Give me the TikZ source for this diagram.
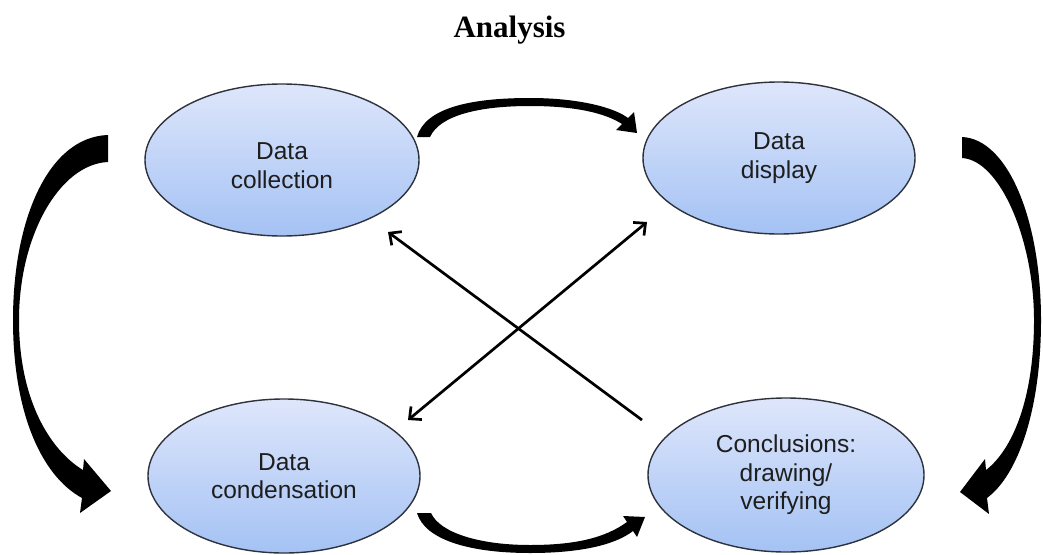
\documentclass[tikz,border=0pt]{standalone}
\usepackage{fontspec}
\setmainfont{Liberation Serif}
\setsansfont{Liberation Sans}
\usetikzlibrary{arrows.meta,shapes.geometric}
\definecolor{elltop}{RGB}{222,230,251}
\definecolor{ellbot}{RGB}{164,194,244}
\definecolor{elledge}{RGB}{45,50,60}
\definecolor{txt}{RGB}{30,30,30}
\tikzset{
  stage/.style={ellipse, draw=elledge, line width=1.4pt, top color=elltop, bottom color=ellbot,
    inner sep=0pt, align=center, text=txt, font=\sffamily\fontsize{24.5}{28.5}\selectfont},
  band/.style={fill=black, draw=none},
  link/.style={line width=2.7pt, -{Straight Barb[length=9pt,width=17pt]}},
  duallink/.style={line width=2.7pt, {Straight Barb[length=9pt,width=17pt]}-{Straight Barb[length=9pt,width=17pt]}}
}
\begin{document}
\begin{tikzpicture}[x=1pt,y=-1pt]
\useasboundingbox (0,0) rectangle (1043,554);
\node[font=\bfseries\fontsize{31}{36}\selectfont, anchor=base] (title) at (509.5,37) {Analysis};

\node[stage, minimum width=274pt, minimum height=152pt] (coll) at (282,160) {\rule{0pt}{4pt}\\[-4pt]Data\\collection};
\node[stage, minimum width=272pt, minimum height=152pt] (disp) at (779,158) {Data\\display};
\node[stage, minimum width=272pt, minimum height=154pt] (cond) at (284,476) {Data\\condensation};
\node[stage, minimum width=276pt, minimum height=154pt] (conc) at (786,475) {Conclusions:\\drawing/\\verifying};

% straight connectors
\coordinate (l1a) at (642,420);
\coordinate (l1b) at (388,232);
\coordinate (l2a) at (408,420);
\coordinate (l2b) at (647,222);
\draw[link] (l1a) -- (l1b);
\draw[duallink] (l2a) -- (l2b);

% left big curved arrow (collection -> condensation)
\fill[band] (108,135) .. controls (48,137) and (13,220) .. (13,320)
  .. controls (13,410) and (40,475) .. (82,498)
  -- (80,513) -- (111,491) -- (84,459) -- (83,470)
  .. controls (50,450) and (19,400) .. (19,320)
  .. controls (19,235) and (60,164) .. (108,162) -- cycle;

% right big curved arrow (display -> conclusions)
\fill[band] (962,137) .. controls (1008,139) and (1041,220) .. (1041,320)
  .. controls (1041,410) and (1018,475) .. (987,498)
  -- (989,514) -- (960,492) -- (985,459) -- (986,470)
  .. controls (1012,450) and (1034,400) .. (1034,320)
  .. controls (1034,240) and (1000,160) .. (962,158) -- cycle;

% top arc (collection -> display)
\fill[band] (417,137) .. controls (425,108) and (470,98) .. (530,98)
  .. controls (580,98) and (615,108) .. (628,118)
  -- (634,112) -- (637,133) -- (616,130) -- (622,124)
  .. controls (605,113) and (575,106) .. (530,106)
  .. controls (480,106) and (440,115) .. (430,137) -- cycle;

% bottom arc (condensation -> conclusions)
\fill[band] (417,513) .. controls (425,540) and (470,553) .. (530,553)
  .. controls (580,553) and (615,545) .. (633,531)
  -- (637,537) -- (645,517) -- (623,516) -- (627,522)
  .. controls (605,538) and (575,545) .. (530,545)
  .. controls (480,545) and (440,533) .. (431,513) -- cycle;
\end{tikzpicture}
\end{document}
